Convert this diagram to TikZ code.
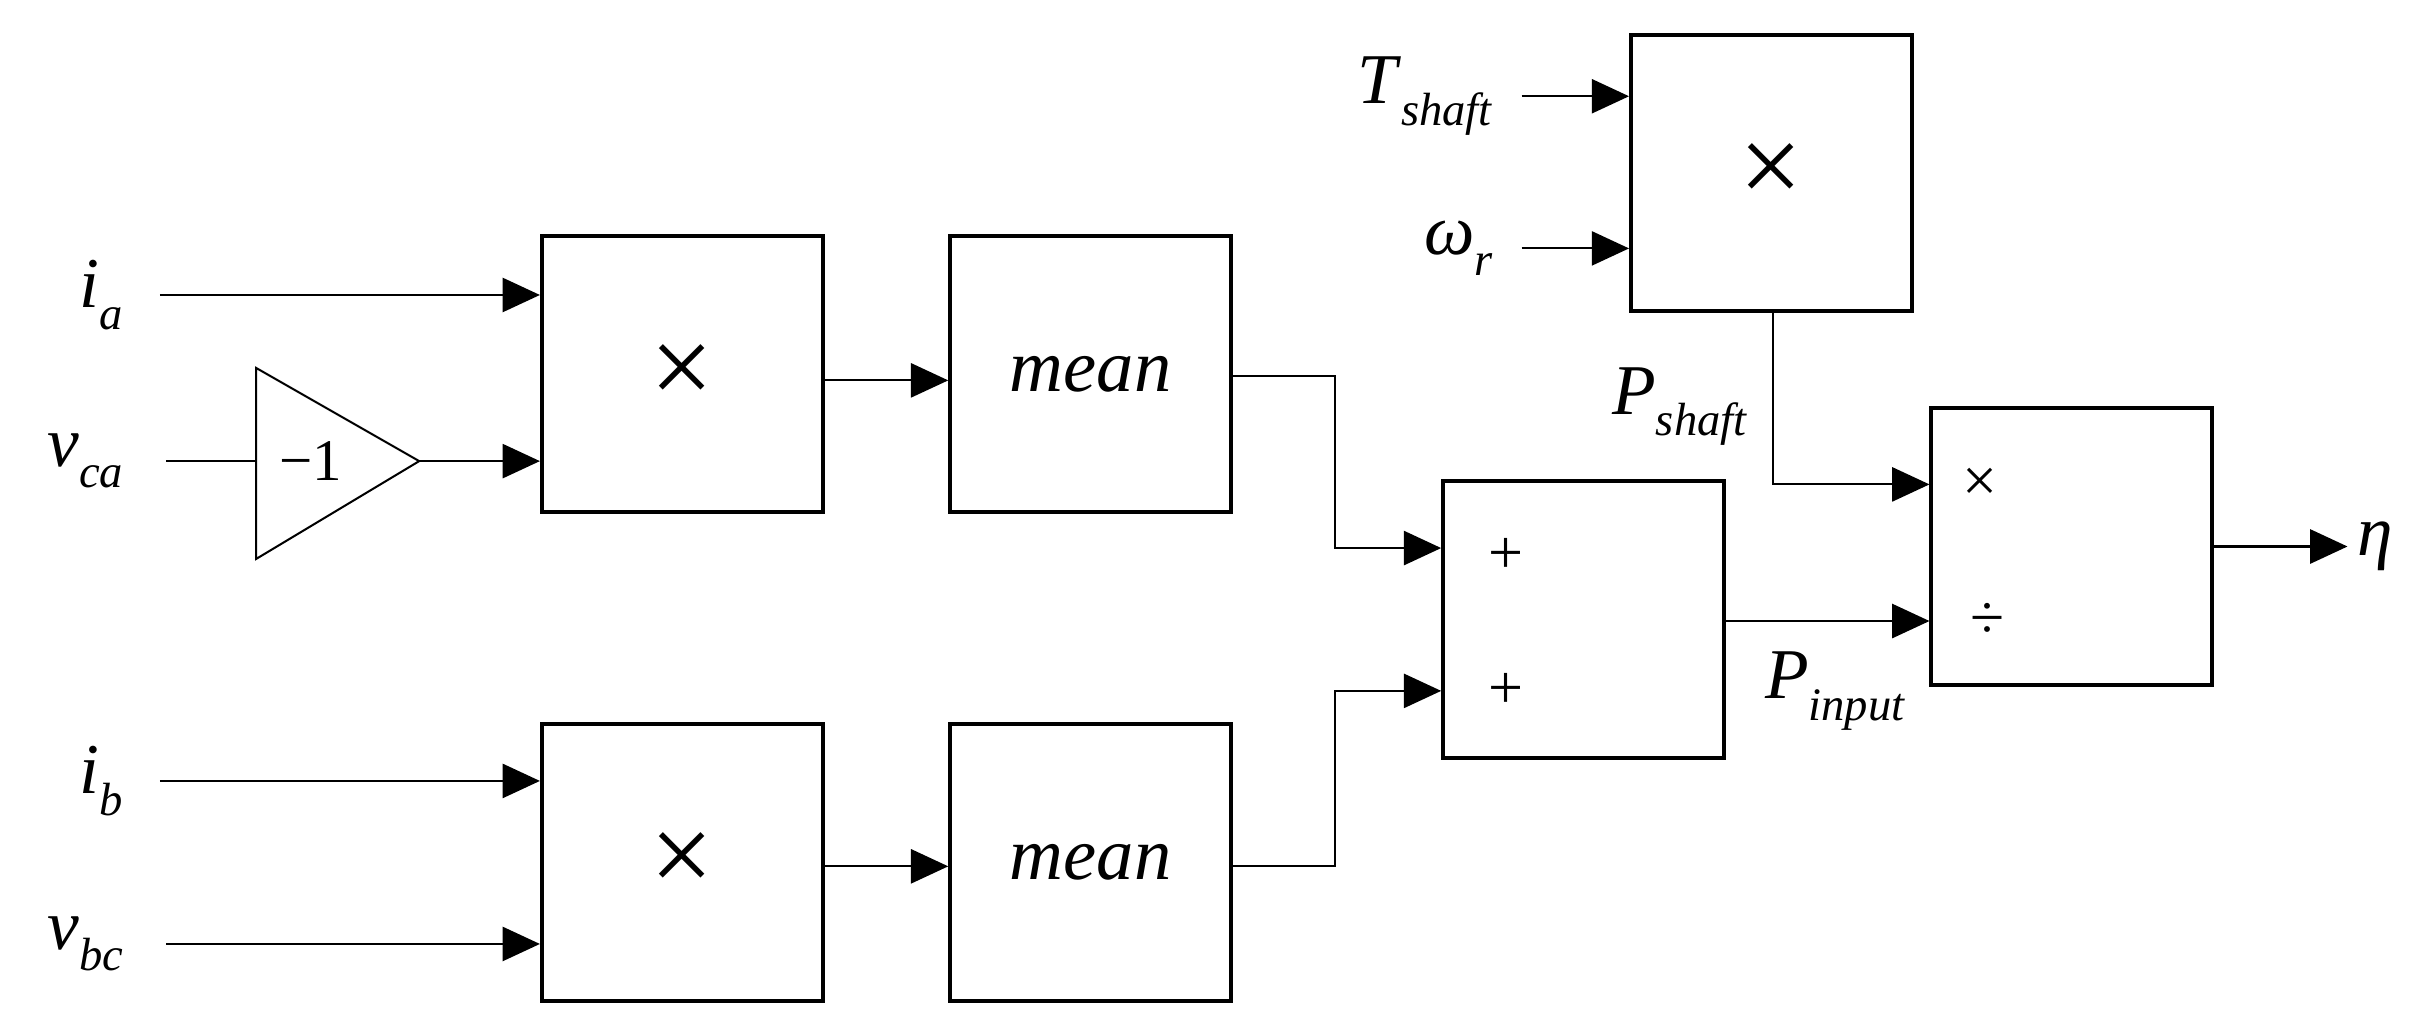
\documentclass[tikz,border=0pt]{standalone}
\usepackage{fontspec}
\setmainfont{Liberation Serif}
\usetikzlibrary{arrows.meta}
\newcommand{\vlab}[2]{\textit{#1}\raisebox{-0.3em}{\fontsize{30}{32}\selectfont\textit{#2}}}
\begin{document}
\begin{tikzpicture}[x=1pt,y=-1pt,
  box/.style={draw,line width=2.5pt,minimum width=181pt,minimum height=178pt,inner sep=0pt},
  con/.style={line width=1.3pt,-{Triangle[length=24pt,width=22pt]}},
  wire/.style={line width=1.3pt},
  lab/.style={font=\fontsize{46}{50}\selectfont},
  sym/.style={font=\fontsize{40}{44}\selectfont},
  big/.style={font=\fontsize{72}{72}\selectfont}]
\useasboundingbox (0,0) rectangle (1560,663);
% boxes
\node[box,big] (m1) at (439.5,241) {×};
\node[box] (a1) at (702.5,241) {\fontsize{48}{50}\selectfont\itshape mean};
\node[box,big] (m2) at (439.5,555.5) {×};
\node[box] (a2) at (702.5,555.5) {\fontsize{48}{50}\selectfont\itshape mean};
\node[box] (s) at (1020,399) {};
\node[box,big] (mt) at (1141,111.5) {×};
\node[box] (d) at (1334.5,352) {};
\node[sym] at (970,358) {+};
\node[sym] at (970,445) {+};
\node[sym] at (1275,312) {×};
\node[sym] at (1280,400) {÷};
% gain
\draw[line width=1.3pt] (165,237) -- (270,297) -- (165,360) -- cycle;
\node[font=\fontsize{38}{40}\selectfont] (g) at (200,297) {−1};
\coordinate (gin) at (165,297);
\coordinate (gout) at (270,297);
% labels
\node[lab] (ia) at (65,190) {\vlab{i}{a}};
\node[lab] (vca) at (55,297) {\vlab{v}{ca}};
\node[lab] (ib) at (65,503) {\vlab{i}{b}};
\node[lab] (vbc) at (55,608) {\vlab{v}{bc}};
\node[lab,anchor=east] (ts) at (965,62) {\vlab{T}{shaft}};
\node[lab,anchor=east] (wr) at (965,160) {\vlab{ω}{r}};
\node[lab] (eta) at (1530,352) {\textit{η}};
\node[lab] (psh) at (1082,262) {\vlab{P}{shaft}};
\node[lab] (pin) at (1182,445) {\vlab{P}{input}};
% connectors
\coordinate (iaE) at (103,190);
\coordinate (ibE) at (103,503);
\coordinate (vbcE) at (107,608);
\coordinate (vcaE) at (107,297);
\coordinate (tsE) at (980,62);
\coordinate (wrE) at (980,160);
\coordinate (etaE) at (1512,352);
\draw[con] (iaE) -- (iaE -| m1.west);
\draw[wire] (vcaE) -- (gin);
\draw[con] (gout) -- (gout -| m1.west);
\draw[con] (ibE) -- (ibE -| m2.west);
\draw[con] (vbcE) -- (vbcE -| m2.west);
\draw[con] (m1.east |- 0,245) -- (a1.west |- 0,245);
\draw[con] (m2.east |- 0,558) -- (a2.west |- 0,558);
\draw[con] (a1.east |- 0,242) -- (860,242) -- (860,353) -- (s.west |- 0,353);
\draw[con] (a2.east |- 0,558) -- (860,558) -- (860,445) -- (s.west |- 0,445);
\draw[con] (tsE) -- (tsE -| mt.west);
\draw[con] (wrE) -- (wrE -| mt.west);
\draw[con] (mt.south -| 1142,0) -- (1142,312) -- (d.west |- 0,312);
\draw[con] (s.east |- 0,400) -- (d.west |- 0,400);
\draw[con] (d.east |- etaE) -- (etaE);
\end{tikzpicture}
\end{document}
